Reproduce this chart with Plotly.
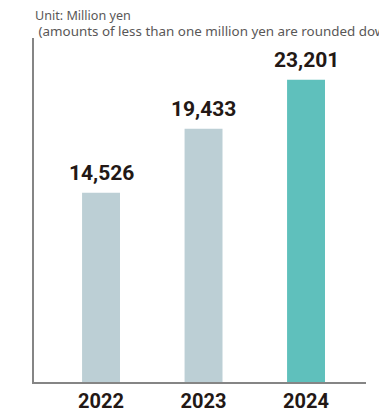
import plotly.graph_objects as go

years = ["2022", "2023", "2024"]
values = [14526, 19433, 23201]
bar_colors = ["#bccfd5", "#bccfd5", "#5fc0bc"]
unit_note = "Unit: Million yen"
rounding_note = "\u00a0(amounts of less than one million yen are rounded down)"

PLOT_W = 332
PLOT_H = 344

fig = go.Figure()
fig.add_trace(go.Bar(
    x=years, y=values,
    marker=dict(color=bar_colors, line=dict(width=0)),
    width=0.37,
    hoverinfo="skip",
))

# value labels above each bar (category index on x)
for i, v in enumerate(values):
    fig.add_annotation(
        x=i, y=v, xref="x", yref="y", text=f"{v:,}", showarrow=False,
        xanchor="center", yanchor="bottom", yshift=6,
        font=dict(family="Roboto", size=21, color="#231815", weight="bold"),
    )

# two-line unit note in the top-left corner; second line set a touch larger
fig.add_annotation(
    x=-1 / PLOT_W, y=1 - 4 / PLOT_H, xref="paper", yref="paper",
    text=unit_note + "<br>" + '<span style="font-size:13.4px">' + rounding_note + "</span>",
    showarrow=False, align="left",
    xanchor="left", yanchor="bottom",
    font=dict(family="Noto Sans", size=12.6, color="#595757"),
)

fig.update_layout(
    width=379, height=415,
    margin=dict(l=34, r=13, t=38, b=33, autoexpand=False),
    paper_bgcolor="white", plot_bgcolor="white",
    showlegend=False,
    xaxis=dict(
        type="category", range=[-0.654, 2.585], automargin=False,
        showline=True, linecolor="#858585", linewidth=2,
        ticks="", showgrid=False, zeroline=False,
        tickfont=dict(family="Roboto", size=20, color="#231815", weight="bold"),
        ticklabelstandoff=0,
    ),
    yaxis=dict(
        range=[0, 26400], automargin=False,
        showline=True, linecolor="#858585", linewidth=2,
        showticklabels=False, ticks="", showgrid=False, zeroline=False,
    ),
)

fig.write_html("out.html")
